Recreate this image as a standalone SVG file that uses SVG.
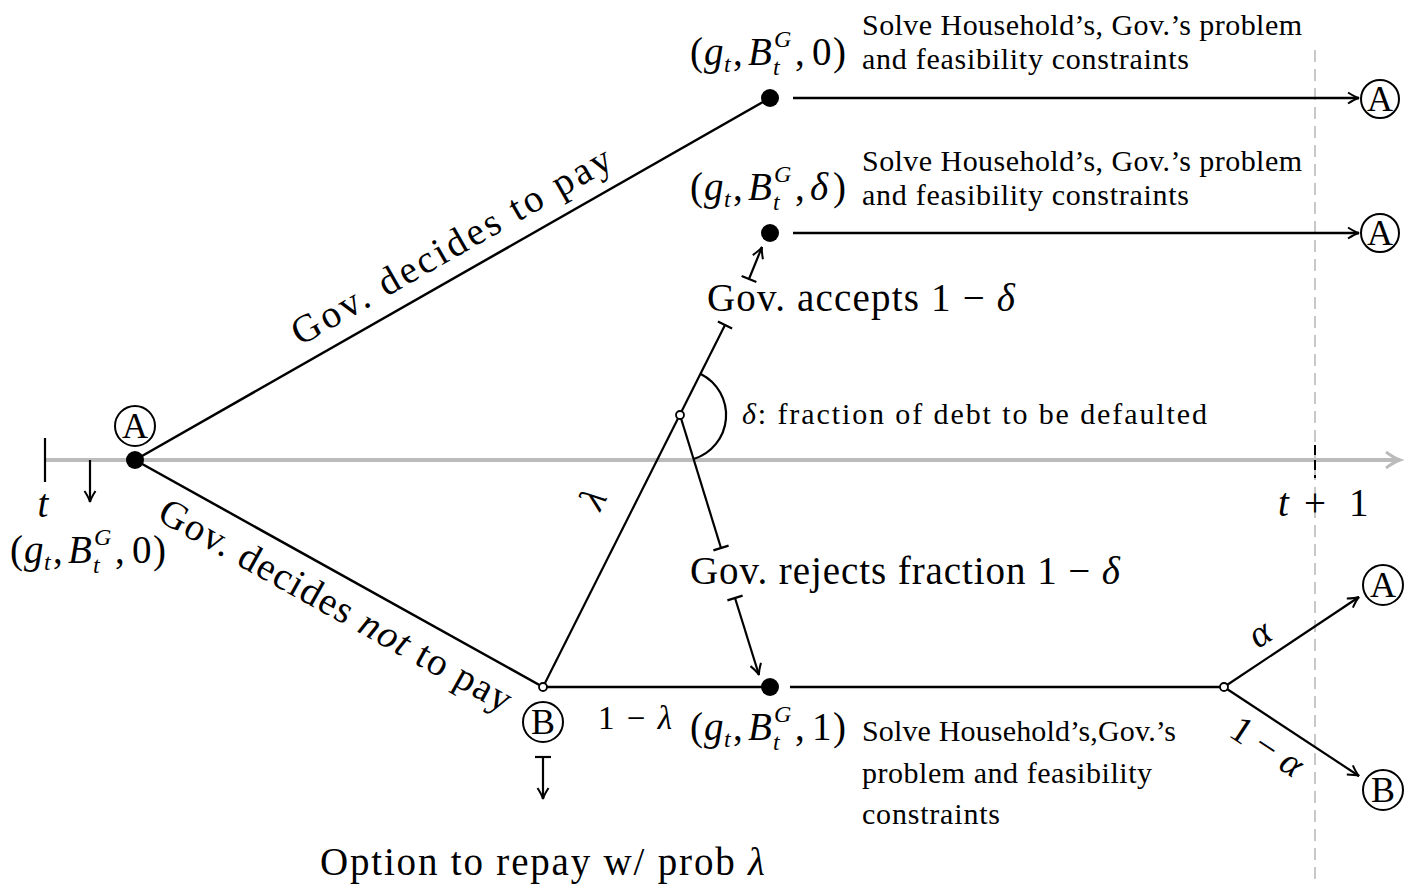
<svg xmlns="http://www.w3.org/2000/svg" width="1404" height="884" viewBox="0 0 1404 884">
<style>
text{font-family:"Liberation Serif","Times New Roman",serif;fill:#000}
.m{font-style:italic}
.big{font-size:39px}
.sm{font-size:30px}
.sub{font-size:24px;font-style:italic}
.edge{stroke:#000;stroke-width:2.5;fill:none}
.thin{stroke:#000;stroke-width:2.2;fill:none}
.circ{fill:#fff;stroke:#000;stroke-width:2}
.dot{fill:#000}
.open{fill:#fff;stroke:#000;stroke-width:1.8}
.lt{font-size:39px;text-anchor:middle}
.cl{font-size:36px;text-anchor:middle}
</style>
<defs>
<marker id="arr" markerUnits="userSpaceOnUse" markerWidth="20" markerHeight="20" orient="auto" overflow="visible">
<path d="M-11,-5.5 Q-4,-1 0,0 Q-4,1 -11,5.5" fill="none" stroke="#000" stroke-width="2"/>
</marker>
<marker id="garr" markerUnits="userSpaceOnUse" markerWidth="30" markerHeight="30" orient="auto" overflow="visible">
<path d="M-14,-8 Q-6,-2 0,0 Q-6,2 -14,8" fill="none" stroke="#bbb" stroke-width="3"/>
</marker>
</defs>
<rect width="1404" height="884" fill="#fff"/>

<g id="timeline">
<line x1="1315" y1="50" x2="1315" y2="884" stroke="#c8c8c8" stroke-width="2" stroke-dasharray="12 7"/>
<line x1="45" y1="460" x2="1400" y2="460" stroke="#bbb" stroke-width="4" marker-end="url(#garr)"/>
<line x1="45" y1="438" x2="45" y2="482" class="thin"/>
<line x1="1315" y1="445" x2="1315" y2="478" stroke="#000" stroke-width="2" stroke-dasharray="10 5"/>
<line x1="90" y1="460" x2="90" y2="502" class="thin" marker-end="url(#arr)"/>
<text x="43" y="517" class="big m" text-anchor="middle">t</text>
<text y="516" class="big"><tspan x="1278" class="m">t</tspan><tspan x="1304">+</tspan><tspan x="1349">1</tspan></text>
<g id="label-state0-left" transform="translate(10,563)">
<text x="0" y="0" class="big">(</text>
<text x="14" y="0" class="big m">g</text>
<text x="34" y="7" class="sub">t</text>
<text x="43" y="0" class="big">,</text>
<text x="58" y="0" class="big m">B</text>
<text x="84" y="-18" class="sub">G</text>
<text x="83" y="10" class="sub">t</text>
<text x="105" y="0" class="big">,</text>
<text x="122" y="0" class="big">0</text>
<text x="143" y="0" class="big">)</text>
</g>
</g>

<g id="connectors">
<line x1="135" y1="460" x2="770" y2="98" class="edge"/>
<line x1="135" y1="460" x2="543" y2="687" class="edge"/>
<line x1="793" y1="98" x2="1359" y2="98" class="edge" marker-end="url(#arr)"/>
<line x1="793" y1="233" x2="1359" y2="233" class="edge" marker-end="url(#arr)"/>
<line x1="543" y1="687" x2="770" y2="687" class="edge"/>
<line x1="790" y1="687" x2="1221" y2="687" class="edge"/>
<line x1="1227" y1="685" x2="1359" y2="597" class="thin" marker-end="url(#arr)"/>
<line x1="1227" y1="689" x2="1359" y2="776" class="thin" marker-end="url(#arr)"/>
<line x1="543" y1="687" x2="725" y2="325" class="thin"/>
<line x1="717.9" y1="321.4" x2="732.1" y2="328.6" class="thin"/>
<line x1="680" y1="415" x2="721" y2="548" class="thin"/>
<line x1="713.4" y1="550.4" x2="728.6" y2="545.6" class="thin"/>
<line x1="741.6" y1="275.9" x2="756.4" y2="282.1" class="thin"/>
<line x1="749" y1="279" x2="762" y2="247" class="thin" marker-end="url(#arr)"/>
<line x1="727.4" y1="600.4" x2="742.6" y2="595.6" class="thin"/>
<line x1="735" y1="598" x2="759" y2="675" class="thin" marker-end="url(#arr)"/>
<line x1="535" y1="757" x2="551" y2="757" class="thin"/>
<line x1="543" y1="757" x2="543" y2="799" class="thin" marker-end="url(#arr)"/>
<path d="M700.7,373.9 A46,46 0 0 1 693.6,459" class="thin"/>
</g>

<g id="edge-labels">
<text class="lt" transform="translate(135,460) rotate(-29.7)" x="381" y="-17" textLength="362" lengthAdjust="spacing">Gov. decides to pay</text>
<text class="lt" transform="translate(135,460) rotate(29.1)" x="246" y="42" textLength="398" lengthAdjust="spacing">Gov. decides <tspan class="m">not</tspan> to pay</text>
<text class="m" font-size="38" text-anchor="middle" transform="translate(595,500) rotate(-63)" x="0" y="10">λ</text>
<text x="598" y="729" font-size="33" textLength="74" lengthAdjust="spacing">1 − <tspan class="m">λ</tspan></text>
<text class="m" font-size="38" text-anchor="middle" transform="translate(1262,637) rotate(-33.6)" x="0" y="8">α</text>
<text font-size="38" text-anchor="middle" transform="translate(1267,747) rotate(33.3)" x="0" y="12">1 − <tspan class="m">α</tspan></text>
</g>

<g id="nodeA0">
<circle cx="135" cy="460" r="9" class="dot"/>
<circle cx="135" cy="426" r="20" class="circ"/>
<text x="135" y="438" class="cl">A</text>
</g>

<g id="nodePay">
<circle cx="770" cy="98" r="9" class="dot"/>
<g transform="translate(690,65)">
<text x="0" y="0" class="big">(</text>
<text x="14" y="0" class="big m">g</text>
<text x="34" y="7" class="sub">t</text>
<text x="43" y="0" class="big">,</text>
<text x="58" y="0" class="big m">B</text>
<text x="84" y="-18" class="sub">G</text>
<text x="83" y="10" class="sub">t</text>
<text x="105" y="0" class="big">,</text>
<text x="122" y="0" class="big">0</text>
<text x="143" y="0" class="big">)</text>
</g>
<text x="862" y="35" class="sm" textLength="440" lengthAdjust="spacing">Solve Household’s, Gov.’s problem</text>
<text x="862" y="69" class="sm" textLength="327" lengthAdjust="spacing">and feasibility constraints</text>
</g>

<g id="nodeAccept">
<circle cx="770" cy="233" r="9" class="dot"/>
<g transform="translate(690,200)">
<text x="0" y="0" class="big">(</text>
<text x="14" y="0" class="big m">g</text>
<text x="34" y="7" class="sub">t</text>
<text x="43" y="0" class="big">,</text>
<text x="58" y="0" class="big m">B</text>
<text x="84" y="-18" class="sub">G</text>
<text x="83" y="10" class="sub">t</text>
<text x="105" y="0" class="big">,</text>
<text x="120" y="0" class="big m">δ</text>
<text x="143" y="0" class="big">)</text>
</g>
<text x="862" y="171" class="sm" textLength="440" lengthAdjust="spacing">Solve Household’s, Gov.’s problem</text>
<text x="862" y="205" class="sm" textLength="327" lengthAdjust="spacing">and feasibility constraints</text>
<text x="707" y="311" class="big" textLength="308" lengthAdjust="spacing">Gov. accepts 1 − <tspan class="m">δ</tspan></text>
</g>

<g id="nodeDelta">
<circle cx="680" cy="415" r="4" class="open"/>
<text x="742" y="424" class="sm" textLength="465" lengthAdjust="spacing"><tspan class="m">δ</tspan>: fraction of debt to be defaulted</text>
</g>

<g id="nodeReject">
<text x="690" y="584" class="big" textLength="430" lengthAdjust="spacing">Gov. rejects fraction 1 − <tspan class="m">δ</tspan></text>
</g>

<g id="nodeDefault">
<circle cx="770" cy="687" r="9" class="dot"/>
<g transform="translate(690,740)">
<text x="0" y="0" class="big">(</text>
<text x="14" y="0" class="big m">g</text>
<text x="34" y="7" class="sub">t</text>
<text x="43" y="0" class="big">,</text>
<text x="58" y="0" class="big m">B</text>
<text x="84" y="-18" class="sub">G</text>
<text x="83" y="10" class="sub">t</text>
<text x="105" y="0" class="big">,</text>
<text x="122" y="0" class="big">1</text>
<text x="143" y="0" class="big">)</text>
</g>
<text x="862" y="741" class="sm" textLength="314" lengthAdjust="spacing">Solve Household’s,Gov.’s</text>
<text x="862" y="783" class="sm" textLength="290" lengthAdjust="spacing">problem and feasibility</text>
<text x="862" y="824" class="sm" textLength="138" lengthAdjust="spacing">constraints</text>
</g>

<g id="nodeB">
<circle cx="543" cy="687" r="4" class="open"/>
<circle cx="543" cy="722" r="20" class="circ"/>
<text x="543" y="734" class="cl">B</text>
<text x="320" y="875" class="big" textLength="445" lengthAdjust="spacing">Option to repay w/ prob <tspan class="m">λ</tspan></text>
</g>

<g id="nodeBranch">
<circle cx="1224" cy="687" r="4" class="open"/>
</g>

<g id="nextA1">
<circle cx="1380" cy="99" r="19" class="circ"/>
<text x="1380" y="111" class="cl">A</text>
</g>
<g id="nextA2">
<circle cx="1380" cy="233" r="19" class="circ"/>
<text x="1380" y="245" class="cl">A</text>
</g>
<g id="nextA3">
<circle cx="1383" cy="585" r="20" class="circ"/>
<text x="1383" y="597" class="cl">A</text>
</g>
<g id="nextB">
<circle cx="1383" cy="790" r="20" class="circ"/>
<text x="1383" y="802" class="cl">B</text>
</g>
</svg>
